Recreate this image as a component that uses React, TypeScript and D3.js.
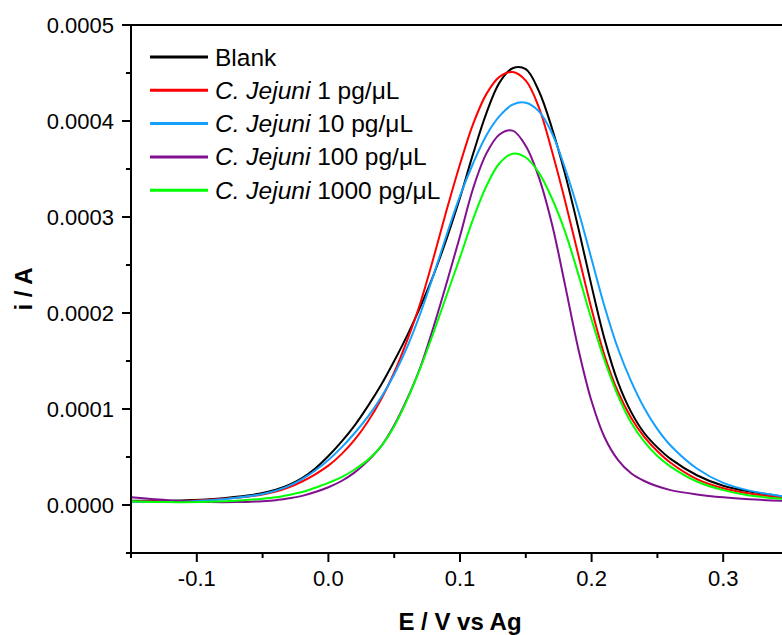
import React from 'react';
import * as d3 from 'd3';

// potential (V) grid shared by all curves
const potentials = [
  -0.15, -0.12, -0.09, -0.07, -0.05,
  -0.04, -0.03, -0.02, -0.01, 0,
  0.01, 0.02, 0.03, 0.04, 0.05, 0.06, 0.07, 0.08, 0.09,
  0.1, 0.11, 0.12, 0.13, 0.14, 0.15, 0.16, 0.17, 0.18, 0.19,
  0.2, 0.21, 0.22, 0.23, 0.24, 0.25, 0.26,
  0.28, 0.3, 0.32, 0.35,
];

// currents in units of 1e-6 A
const blank = [
  4.5, 4.5, 6, 8.5, 12.5,
  16, 21, 28, 38, 51,
  66, 83, 103, 125, 150, 177, 207, 240, 278,
  320, 366, 408, 440, 455, 454, 431, 392, 344, 288,
  228, 172, 128, 97, 75, 60, 48,
  31, 20, 14, 8,
];
const cj1 = [
  4, 4, 5.5, 7.5, 11,
  14, 18.5, 24.5, 32, 41,
  53, 68, 87, 110, 138, 172, 211, 258, 308,
  355, 397, 428, 446, 451, 442, 414, 368, 316, 260,
  204, 155, 118, 91, 71, 56, 44,
  27, 17.5, 12, 7,
];
const cj10 = [
  3.5, 3.5, 5, 7.5, 11.5,
  15, 20, 27, 36, 47,
  60, 75, 92, 112, 136, 165, 200, 240, 282,
  322, 356, 385, 405, 417, 419, 410, 387, 350, 306,
  256, 206, 163, 129, 101, 79, 62,
  38, 23, 15, 8,
];
const cj100 = [
  8, 4.8, 3, 3, 4,
  5, 7, 9.5, 13.5, 18.5,
  25, 34, 46, 61, 83, 111, 144, 186, 232,
  280, 330, 366, 386, 390, 374, 341, 292, 228, 162,
  108, 70, 47, 33, 25, 19.5, 15.5,
  11, 8, 6, 4,
];
const cj1000 = [
  4, 3, 3.5, 4.5, 6.5,
  8, 10.5, 13.5, 18, 23,
  29, 37, 47, 61, 82, 110, 143, 180, 219,
  258, 298, 332, 356, 366, 362, 346, 319, 284, 240,
  193, 150, 114, 86, 66, 51, 40,
  24.5, 15.5, 10, 6,
];

const seriesNames = ['Blank', '1', '10', '100', '1000'];
const seriesColors = ['#000000', '#ff0000', '#14a0ff', '#80108f', '#00ff00'];
const seriesValues = [blank, cj1, cj10, cj100, cj1000];

const xMajor = [-0.1, 0, 0.1, 0.2, 0.3];
const xMinor = [-0.15, -0.05, 0.05, 0.15, 0.25, 0.35];
const yMajor = [0, 0.0001, 0.0002, 0.0003, 0.0004, 0.0005];
const yMinor = [-0.00005, 0.00005, 0.00015, 0.00025, 0.00035, 0.00045];

const W = 782;
const H = 635;
const margin = { top: 25, left: 131, bottom: 553, right: 789 };
const font = '"Liberation Sans", Arial, sans-serif';

export default function App() {
  const x = d3.scaleLinear().domain([-0.15, 0.35]).range([margin.left, margin.right]);
  const y = d3.scaleLinear().domain([-0.00005, 0.0005]).range([margin.bottom, margin.top]);

  const line = d3
    .line<number>()
    .x((_, i) => x(potentials[i]))
    .y((d) => y(d * 1e-6))
    .curve(d3.curveCatmullRom.alpha(0.5));

  return (
    <svg
      width={W}
      height={H}
      style={{ position: 'absolute', left: 0, top: 0, background: '#fff' }}
      fontFamily={font}
    >
      {/* curves */}
      {seriesValues.map((vals, k) => (
        <path key={k} d={line(vals) || ''} fill="none" stroke={seriesColors[k]} strokeWidth={2} />
      ))}

      {/* frame */}
      <line x1={margin.left} x2={margin.right} y1={margin.top} y2={margin.top} stroke="#000" strokeWidth={2} />
      <line x1={margin.left} x2={margin.right} y1={margin.bottom} y2={margin.bottom} stroke="#000" strokeWidth={2} />
      <line x1={margin.left} x2={margin.left} y1={margin.top - 1} y2={margin.bottom + 1} stroke="#000" strokeWidth={2} />

      {/* y ticks */}
      {yMajor.map((v) => (
        <g key={'ym' + v}>
          <line x1={margin.left - 9} x2={margin.left} y1={y(v)} y2={y(v)} stroke="#000" strokeWidth={2} />
          <text x={margin.left - 17} y={y(v)} dy="0.35em" textAnchor="end" fontSize={22}>
            {v.toFixed(4)}
          </text>
        </g>
      ))}
      {yMinor.map((v) => (
        <line key={'yn' + v} x1={margin.left - 5} x2={margin.left} y1={y(v)} y2={y(v)} stroke="#000" strokeWidth={2} />
      ))}

      {/* x ticks */}
      {xMajor.map((v) => (
        <g key={'xm' + v}>
          <line x1={x(v)} x2={x(v)} y1={margin.bottom} y2={margin.bottom + 9} stroke="#000" strokeWidth={2} />
          <text x={x(v)} y={margin.bottom + 33} textAnchor="middle" fontSize={22}>
            {v.toFixed(1)}
          </text>
        </g>
      ))}
      {xMinor.map((v) => (
        <line key={'xn' + v} x1={x(v)} x2={x(v)} y1={margin.bottom} y2={margin.bottom + 5} stroke="#000" strokeWidth={2} />
      ))}

      {/* axis titles */}
      <text x={460} y={630} textAnchor="middle" fontSize={24} fontWeight="bold">
        E / V vs Ag
      </text>
      <text transform="translate(32,289) rotate(-90)" textAnchor="middle" fontSize={24} fontWeight="bold">
        i / A
      </text>

      {/* legend */}
      {seriesNames.map((name, k) => {
        const ly = 57 + k * 33.3;
        return (
          <g key={'lg' + k}>
            <line x1={150} x2={208} y1={ly} y2={ly} stroke={seriesColors[k]} strokeWidth={3} />
            <text x={215} y={ly + 8.5} fontSize={24.5}>
              {k === 0 ? (
                name
              ) : (
                <>
                  <tspan fontStyle="italic">C. Jejuni</tspan> {name} pg/μL
                </>
              )}
            </text>
          </g>
        );
      })}
    </svg>
  );
}
